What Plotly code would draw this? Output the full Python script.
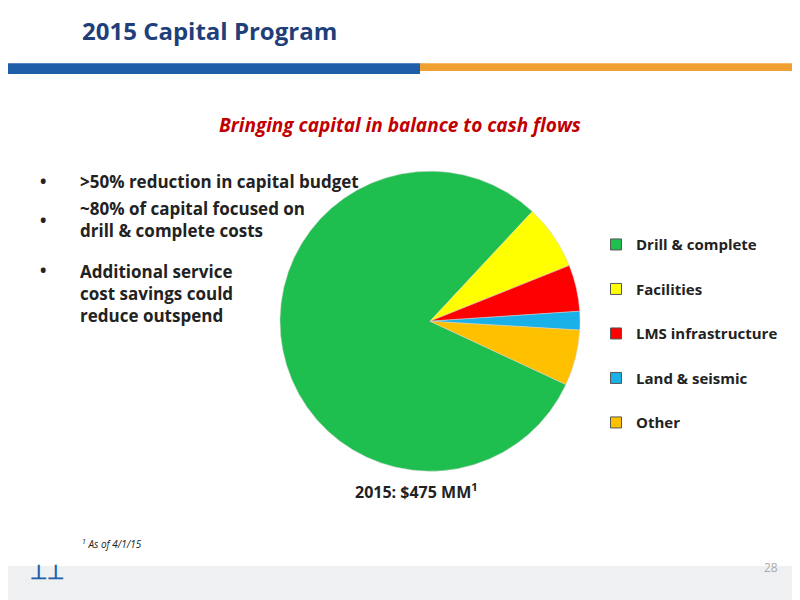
import plotly.graph_objects as go

labels = ["Drill & complete", "Facilities", "LMS infrastructure", "Land & seismic", "Other"]
values = [80, 7, 5, 2, 6]
colors = ["#1fbf4f", "#ffff00", "#ff0000", "#1ab0e8", "#ffc000"]

font = "Open Sans"
fig = go.Figure(go.Pie(
    labels=labels, values=values, sort=False, direction="clockwise", rotation=115,
    marker=dict(colors=colors, line=dict(color="#d0d0d0", width=0.5)),
    textinfo="none", hoverinfo="label+percent", showlegend=False,
    domain=dict(x=[0.34, 0.715], y=[0.228, 0.728]),
))

# legend entries with wider spacing than a pie legend allows
for name, col in zip(labels, colors):
    fig.add_trace(go.Scatter(
        x=[None], y=[None], mode="markers", name=f"<b>{name}</b>", legendgroup=name,
        marker=dict(symbol="square", size=11, color=col, line=dict(color="#555", width=1)),
    ))

fig.update_layout(
    width=800, height=600, margin=dict(l=0, r=0, t=0, b=0),
    paper_bgcolor="white", plot_bgcolor="white",
    font=dict(family=font),
    xaxis=dict(visible=False), yaxis=dict(visible=False),
    legend=dict(x=0.735, y=0.633, xanchor="left", yanchor="top",
                font=dict(size=15, color="#222", family=font), tracegroupgap=22,
                itemwidth=30, bgcolor="rgba(0,0,0,0)"),
    shapes=[
        dict(type="rect", xref="paper", yref="paper", x0=0, x1=0.515, y0=0.89, y1=0.908,
             fillcolor="#1f5fa8", line=dict(width=0)),
        dict(type="rect", xref="paper", yref="paper", x0=0.515, x1=1, y0=0.895, y1=0.908,
             fillcolor="#f0a030", line=dict(width=0)),
        dict(type="rect", xref="paper", yref="paper", x0=0, x1=1, y0=0, y1=0.07,
             fillcolor="#eef0f2", line=dict(width=0), layer="below"),
    ],
    annotations=[
        dict(text="<b>2015 Capital Program</b>", x=0.09, y=0.962, xref="paper", yref="paper",
             xanchor="left", yanchor="middle", showarrow=False, font=dict(size=24, color="#1f3f7a")),
        dict(text="<b><i>Bringing capital in balance to cash flows</i></b>", x=0.49, y=0.83,
             xref="paper", yref="paper", showarrow=False, font=dict(size=19, color="#c00000")),
        dict(text="<b>•</b>", x=0.038, y=0.733, xref="paper", yref="paper", xanchor="left",
             showarrow=False, font=dict(size=17, color="#222")),
        dict(text="<b>>50% reduction in capital budget</b>", x=0.088, y=0.733, xref="paper",
             yref="paper", xanchor="left", showarrow=False, font=dict(size=17, color="#222")),
        dict(text="<b>•</b>", x=0.038, y=0.668, xref="paper", yref="paper", xanchor="left",
             showarrow=False, font=dict(size=17, color="#222")),
        dict(text="<b>~80% of capital focused on<br>drill & complete costs</b>", x=0.088, y=0.668,
             xref="paper", yref="paper", xanchor="left", yanchor="top", yshift=12, align="left",
             showarrow=False, font=dict(size=17, color="#222")),
        dict(text="<b>•</b>", x=0.038, y=0.563, xref="paper", yref="paper", xanchor="left",
             showarrow=False, font=dict(size=17, color="#222")),
        dict(text="<b>Additional service<br>cost savings could<br>reduce outspend</b>", x=0.088,
             y=0.563, xref="paper", yref="paper", xanchor="left", yanchor="top", yshift=12,
             align="left", showarrow=False, font=dict(size=17, color="#222")),
        dict(text="<b>2015: $475 MM<sup>1</sup></b>", x=0.51, y=0.172, xref="paper", yref="paper",
             showarrow=False, font=dict(size=16, color="#222")),
        dict(text="<i><sup>1</sup> As of 4/1/15</i>", x=0.09, y=0.092, xref="paper", yref="paper",
             xanchor="left", showarrow=False, font=dict(size=10, color="#222")),
        dict(text="28", x=0.965, y=0.05, xref="paper", yref="paper", xanchor="right",
             showarrow=False, font=dict(size=12, color="#aaa")),
        dict(text="<b>⊥⊥</b>", x=0.025, y=0.035, xref="paper", yref="paper", xanchor="left",
             showarrow=False, font=dict(size=20, color="#1f5fa8")),
    ],
)

fig.write_html("out.html")
